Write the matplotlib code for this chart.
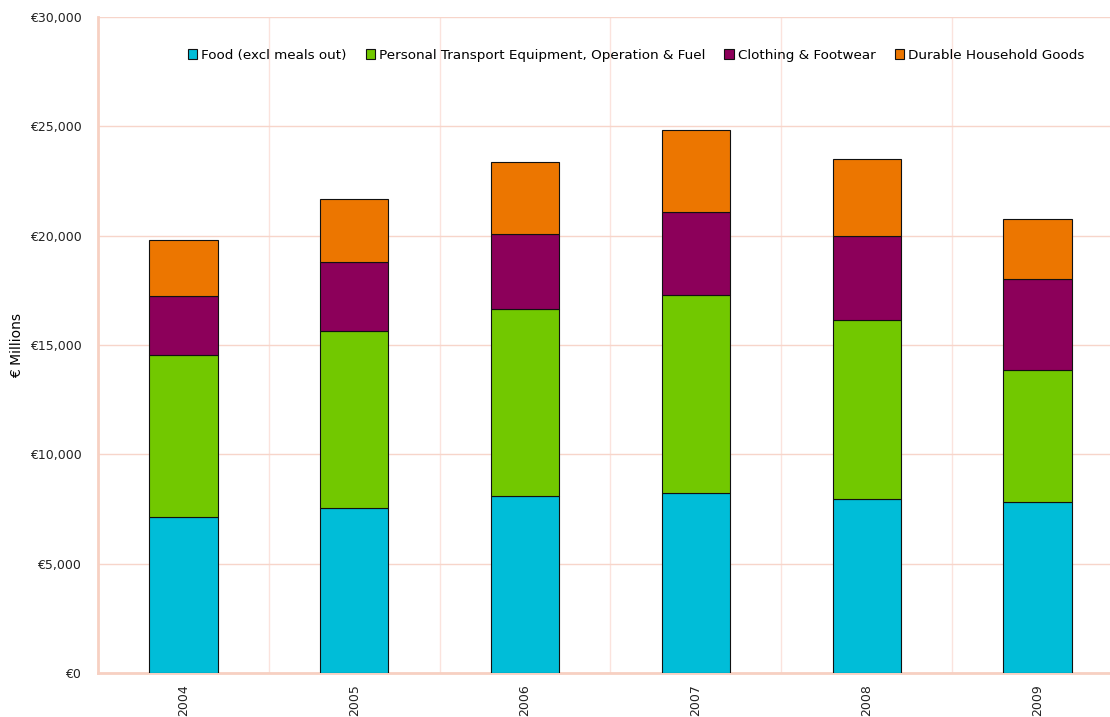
import matplotlib
matplotlib.use("Agg")
import matplotlib.pyplot as plt
import numpy as np
from matplotlib.ticker import FuncFormatter, MultipleLocator

years = ["2004", "2005", "2006", "2007", "2008", "2009"]
series = ["Food (excl meals out)",
          "Personal Transport Equipment, Operation & Fuel",
          "Clothing & Footwear",
          "Durable Household Goods"]
food = [7150, 7530, 8110, 8240, 7950, 7830]
transport = [7380, 8100, 8540, 9050, 8200, 6040]
clothing = [2720, 3170, 3430, 3800, 3840, 4160]
durable = [2570, 2880, 3290, 3760, 3520, 2740]
colors = ["#00BDD8", "#72C800", "#8C005A", "#EC7600"]

fig = plt.figure(figsize=(11.1, 7.17), dpi=100)
# right edge runs a little past the figure, like the original
ax = fig.add_axes([98 / 1110, 44 / 717, 1025 / 1110, 656 / 717])

x = np.arange(len(years))
bottom = np.zeros(len(years))
for name, vals, col in zip(series, [food, transport, clothing, durable], colors):
    ax.bar(x, vals, width=0.4, bottom=bottom, color=col, edgecolor="#111111",
           linewidth=0.8, label=name, zorder=3)
    bottom += np.array(vals)

ax.set_xlim(-0.5, len(years) - 0.5)
ax.set_ylim(0, 30000)
ax.yaxis.set_major_locator(MultipleLocator(5000))
ax.yaxis.set_major_formatter(FuncFormatter(lambda v, p: "€{:,.0f}".format(v)))
ax.set_xticks(x)
ax.set_xticklabels(years, rotation=90)
ax.set_xticks(np.arange(0.5, len(years) - 0.5, 1), minor=True)

ax.grid(axis="y", which="major", color="#F7D5CA", linewidth=1, zorder=0)
ax.grid(axis="x", which="minor", color="#FBE3DD", linewidth=1, zorder=0)
ax.tick_params(axis="both", which="both", length=0, labelsize=9, colors="#222222")
ax.tick_params(axis="y", pad=12)
ax.tick_params(axis="x", pad=8)

for s in ["top", "right"]:
    ax.spines[s].set_visible(False)
for s in ["left", "bottom"]:
    ax.spines[s].set_color("#F7D0C2")
    ax.spines[s].set_linewidth(2)

ax.set_ylabel("€ Millions", fontsize=10, labelpad=4)

ax.legend(loc="center", bbox_to_anchor=(0.525, 0.942), ncol=4, frameon=False,
          fontsize=9.7, handlelength=0.7, handleheight=0.7, handletextpad=0.3,
          columnspacing=1.4)

fig.savefig("out.png", dpi=100)
